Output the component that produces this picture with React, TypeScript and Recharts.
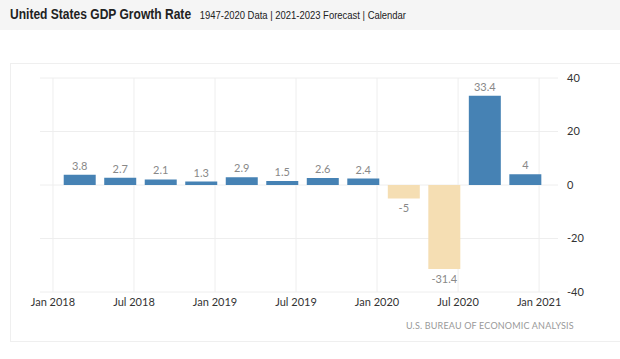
import React from 'react';
import { BarChart, Bar, XAxis, YAxis, CartesianGrid, Cell, LabelList } from 'recharts';

// quarter-end month index counted from Jan 2018 (0)
const QUARTERS = ['Q1 2018', 'Q2 2018', 'Q3 2018', 'Q4 2018', 'Q1 2019', 'Q2 2019', 'Q3 2019', 'Q4 2019', 'Q1 2020', 'Q2 2020', 'Q3 2020', 'Q4 2020'];
const MONTHS = [2, 5, 8, 11, 14, 17, 20, 23, 26, 29, 32, 35];
const GROWTH = [3.8, 2.7, 2.1, 1.3, 2.9, 1.5, 2.6, 2.4, -5, -31.4, 33.4, 4];

const X_TICKS = [0, 6, 12, 18, 24, 30, 36];
const X_LABELS = ['Jan 2018', 'Jul 2018', 'Jan 2019', 'Jul 2019', 'Jan 2020', 'Jul 2020', 'Jan 2021'];
const Y_TICKS = [40, 20, 0, -20, -40];

const data = QUARTERS.map((q, i) => ({ q, m: MONTHS[i], v: GROWTH[i] }));

const BarLabel = (props: any) => {
  const { x, y, width, height, value } = props;
  const neg = value < 0;
  const cx = x + width / 2;
  const top = Math.min(y, y + height);
  const bottom = Math.max(y, y + height);
  const ty = neg ? bottom + 14 : top - 5;
  return (
    <text x={cx} y={ty} textAnchor="middle" fill="#888" fontSize={11} fontFamily="Lato, sans-serif">
      {value}
    </text>
  );
};

export default function App() {
  return (
    <div style={{ position: 'fixed', left: 0, top: 0, width: 620, height: 359, background: '#fff', overflow: 'hidden' }}>
      <div style={{ position: 'absolute', left: 0, top: 0, width: 620, height: 30, background: '#f5f5f5' }}>
        <div style={{ position: 'absolute', left: 10, top: 5, whiteSpace: 'nowrap', fontFamily: 'Arial, "Liberation Sans", sans-serif', color: '#222', transform: 'scaleX(0.86)', transformOrigin: 'left center' }}>
          <span style={{ fontSize: 14, fontWeight: 'bold' }}>United States GDP Growth Rate</span>
          <span style={{ fontSize: 11, marginLeft: 10 }}>1947-2020 Data | 2021-2023 Forecast | Calendar</span>
        </div>
      </div>
      <div style={{ position: 'absolute', left: 10, top: 63, width: 620, height: 279, border: '1px solid #efefef', boxSizing: 'border-box' }} />
      <div style={{ position: 'absolute', left: 0, top: 0 }}>
        <BarChart width={620} height={359} data={data} margin={{ top: 78, right: 22, bottom: 47, left: 40 }}>
          <CartesianGrid stroke="#eeeeee" syncWithTicks />
          <XAxis
            type="number"
            dataKey="m"
            domain={[-0.96, 37.4]}
            ticks={X_TICKS}
            tickFormatter={(t: number) => X_LABELS[X_TICKS.indexOf(t)]}
            axisLine={false}
            tickLine={false}
            tickSize={0}
            tickMargin={6}
            height={20}
            interval={0}
            allowDataOverflow
            tick={{ fill: '#333', fontSize: 11, fontFamily: 'Lato, sans-serif' }}
          />
          <YAxis
            orientation="right"
            type="number"
            domain={[-40, 40]}
            ticks={Y_TICKS}
            axisLine={false}
            tickLine={false}
            tickSize={0}
            tickMargin={9}
            width={40}
            interval={0}
            tick={{ fill: '#333', fontSize: 11, fontFamily: 'Lato, sans-serif', textAnchor: 'start' }}
          />
          <Bar dataKey="v" barSize={32} isAnimationActive={false}>
            {data.map((d, i) => (
              <Cell key={i} fill={d.v < 0 ? '#f5deb3' : '#4682b4'} />
            ))}
            <LabelList dataKey="v" content={BarLabel} />
          </Bar>
        </BarChart>
      </div>
      <div style={{ position: 'absolute', left: 406, top: 319, fontFamily: 'Lato, sans-serif', fontSize: 10, color: '#999', letterSpacing: 0.2, whiteSpace: 'nowrap', transform: 'scaleX(0.9)', transformOrigin: 'left center' }}>
        U.S. BUREAU OF ECONOMIC ANALYSIS
      </div>
    </div>
  );
}
